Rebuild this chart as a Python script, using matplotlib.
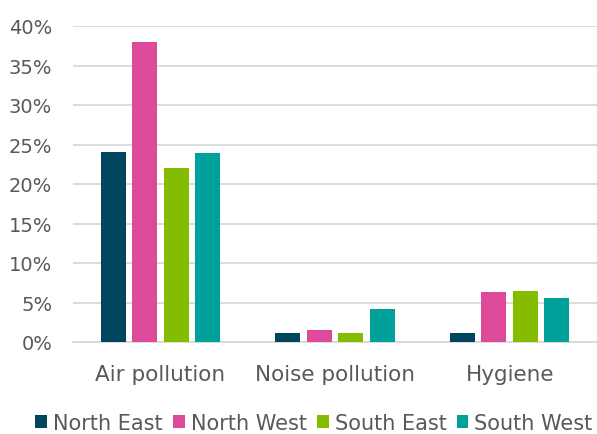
import matplotlib
matplotlib.use("Agg")
import matplotlib.pyplot as plt
import numpy as np
from matplotlib.ticker import FuncFormatter, MultipleLocator

categories = ["Air pollution", "Noise pollution", "Hygiene"]
regions = ["North East", "North West", "South East", "South West"]
north_east = [24.1, 1.2, 1.2]
north_west = [38.0, 1.5, 6.3]
south_east = [22.0, 1.2, 6.5]
south_west = [23.9, 4.2, 5.6]
colors = ["#00465E", "#DE4A9A", "#84BD00", "#00A19A"]

plt.rcParams["font.family"] = ["DejaVu Sans"]
text_color = "#595959"

fig = plt.figure(figsize=(5.97, 4.35), dpi=100)
ax = fig.add_axes([73 / 597, 1 - 343 / 435, 1 - 73 / 597, (343 - 27) / 435])

x = np.arange(len(categories))
width = 0.143
step = 0.18
series = [north_east, north_west, south_east, south_west]
for i, (vals, name, c) in enumerate(zip(series, regions, colors)):
    ax.bar(x + (i - 1.5) * step, vals, width, color=c, label=name, zorder=3)

ax.set_xlim(-0.5, 2.5)
ax.set_ylim(0, 40)
ax.yaxis.set_major_locator(MultipleLocator(5))
ax.yaxis.set_major_formatter(FuncFormatter(lambda v, p: f"{v:.0f}%"))
ax.grid(axis="y", color="#D9D9D9", linewidth=1.3, zorder=0)
for s in ["top", "right", "left"]:
    ax.spines[s].set_visible(False)
ax.spines["bottom"].set_color("#D9D9D9")
ax.spines["bottom"].set_linewidth(1.3)
ax.tick_params(axis="both", length=0, colors=text_color)
ax.tick_params(axis="y", pad=15, labelsize=14)
ax.tick_params(axis="x", pad=15.5, labelsize=15.5)
ax.set_xticks(x)
ax.set_xticklabels(categories)

leg = fig.legend(loc="center", bbox_to_anchor=(0.526, 1 - 424 / 435), ncol=4,
                 frameon=False, handlelength=0.57, handleheight=0.57,
                 handletextpad=0.29, columnspacing=0.48, fontsize=15,
                 labelcolor=text_color, borderaxespad=0, borderpad=0)

fig.savefig("out.png", dpi=100)
